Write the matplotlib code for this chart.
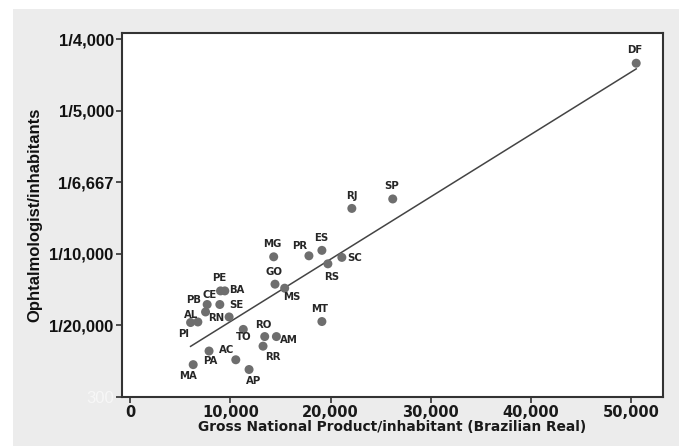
import numpy as np
import matplotlib
matplotlib.use("Agg")
import matplotlib.pyplot as plt
from matplotlib.patches import Rectangle

# Data: GDP per inhabitant (R$) and ophthalmologists per 100,000 inhabitants
states = ["PE", "BA", "CE", "PB", "SE", "RN", "AL", "PI", "TO", "RO", "AM", "RR",
          "PA", "AC", "MA", "AP", "RJ", "SP", "DF", "MG", "PR", "ES", "SC", "RS",
          "GO", "MS", "MT"]
gdp = [9025, 9453, 7692, 7532, 8955, 9881, 6766, 6040, 11294, 13433, 14597, 13264,
       7881, 10547, 6299, 11871, 22120, 26199, 50478, 14328, 17841, 19134, 21124, 19731,
       14458, 15423, 19134]
ophth = [0.741, 0.741, 0.646, 0.594, 0.646, 0.559, 0.524, 0.520, 0.472, 0.422, 0.422, 0.355,
         0.321, 0.260, 0.226, 0.192, 1.317, 1.383, 2.331, 0.979, 0.986, 1.024, 0.975, 0.930,
         0.788, 0.760, 0.527]

y_ticks = [0.5, 1.0, 1.5, 2.0, 2.5]
y_tick_labels = ["1/20,000", "1/10,000", "1/6,667", "1/5,000", "1/4,000"]
x_ticks = [0, 10000, 20000, 30000, 40000, 50000]

# label offsets in pixels (dx, dy)
label_off = {
    "RJ": (0, 12), "MG": (-1, 13), "PR": (-9, 10), "ES": (-1, 12), "SC": (13, -1),
    "RS": (4, -13), "GO": (-1, 12), "MS": (7, -9), "MT": (-2, 13), "PE": (-1, 13),
    "BA": (12, 1), "TO": (0, -8), "RO": (-1, 12), "AM": (12, -3), "RR": (10, -11),
    "PA": (1, -10), "AC": (-9, 10), "MA": (-5, -11), "AP": (5, -11), "SP": (-1, 13),
    "DF": (-1, 13), "PB": (-12, 12), "CE": (2, 9), "SE": (17, -1), "RN": (-13, -1),
    "AL": (-7, 7), "PI": (-7, -11),
}

fig = plt.figure(figsize=(6.79, 4.46), dpi=100)
fig.patch.set_facecolor("white")
fig.patches.append(Rectangle((13 / 679, 0), 1, 1 - 9 / 446, transform=fig.transFigure,
                             facecolor="#ececec", edgecolor="none", zorder=-10))

ax = fig.add_axes([122 / 679, 1 - 397 / 446, (663 - 122) / 679, (397 - 33) / 446])
ax.set_facecolor("white")

# regression line
coef = np.polyfit(gdp, ophth, 1)
xl = np.array([min(gdp), max(gdp)])
ax.plot(xl, np.polyval(coef, xl), color="#444444", lw=1.1, zorder=2)

ax.scatter(gdp, ophth, s=42, color="#6e6e6e", edgecolors="none", zorder=3)
for s, xv, yv in zip(states, gdp, ophth):
    dx, dy = label_off[s]
    ax.annotate(s, (xv, yv), xytext=(dx, dy), textcoords="offset pixels",
                ha="center", va="center", fontsize=7.3, fontweight="bold",
                color="#262626", zorder=4)

ax.set_xlim(-800, 53150)
ax.set_ylim(0, 2.542)
ax.set_xticks(x_ticks)
ax.set_xticklabels([f"{v:,}" for v in x_ticks], fontsize=10.5, fontweight="bold",
                   color="#1a1a1a")
ax.set_yticks([0] + y_ticks)
ax.set_yticklabels(["300"] + y_tick_labels, fontsize=12, fontweight="bold",
                   family="Liberation Sans", color="#111111")
ax.get_yticklabels()[0].set_color("#f7f7f7")
ax.get_yticklabels()[0].set_fontweight("normal")

ax.tick_params(direction="out", length=4, width=1.2, color="#333333", pad=2)
for sp in ax.spines.values():
    sp.set_linewidth(1.5)
    sp.set_color("#333333")

ax.set_xlabel("Gross National Product/inhabitant (Brazilian Real)", fontsize=9.9,
              fontweight="bold", color="#1a1a1a", labelpad=0)
ax.set_ylabel("Ophtalmologist/inhabitants", fontsize=12, fontweight="bold",
              family="Liberation Sans", color="#111111", labelpad=5)

fig.savefig("out.png", dpi=100)
